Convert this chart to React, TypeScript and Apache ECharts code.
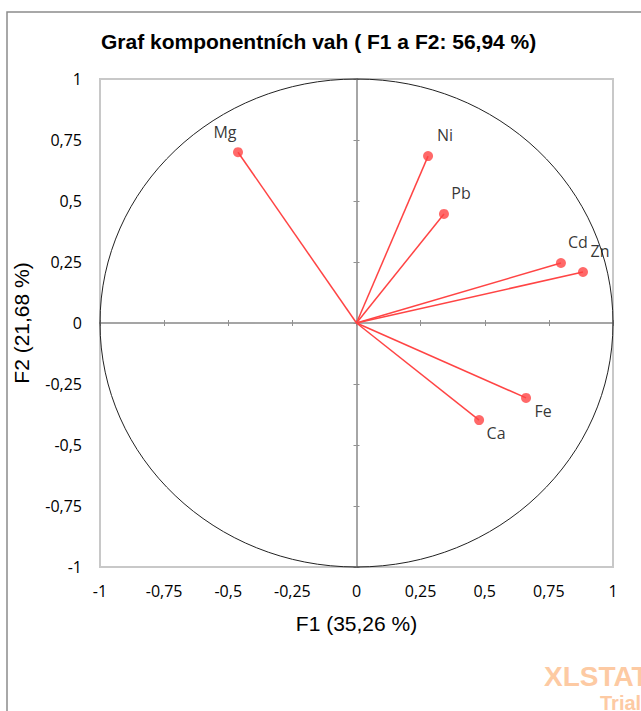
import React, { useEffect, useRef } from "react";
import * as echarts from "echarts";

const variables = ["Mg", "Ni", "Pb", "Cd", "Zn", "Fe", "Ca"];
const f1Values = [-0.462, 0.279, 0.341, 0.797, 0.883, 0.661, 0.478];
const f2Values = [0.7, 0.684, 0.447, 0.246, 0.209, -0.307, -0.398];
const axisTicks = [-1, -0.75, -0.5, -0.25, 0, 0.25, 0.5, 0.75, 1];

const titleText = "Graf komponentních vah ( F1 a F2: 56,94 %)";
const xName = "F1 (35,26 %)";
const yName = "F2 (21,68 %)";

const fmt = (v: number) => String(v).replace(".", ",");
const RED = "#ff4444";

export default function App() {
  const ref = useRef<HTMLDivElement>(null);
  useEffect(() => {
    if (!ref.current) return;
    const chart = echarts.init(ref.current, null, { renderer: "svg" });
    const min = axisTicks[0];
    const max = axisTicks[axisTicks.length - 1];
    const interval = axisTicks[1] - axisTicks[0];
    const labelAxisBase = {
      type: "value" as const,
      min,
      max,
      interval,
      axisLine: { show: false },
      axisTick: { show: false },
      splitLine: { show: false },
    };
    const crossAxis = (inside: boolean) => ({
      type: "value" as const,
      min,
      max,
      interval,
      axisLine: { show: true, onZero: true, lineStyle: { color: "#a0a0a0", width: 1.5 } },
      axisTick: { show: true, inside, length: 3, lineStyle: { color: "#909090", width: 1 } },
      axisLabel: { show: false },
      splitLine: { show: false },
    });
    const points = variables.map((name, i) => {
      const x = f1Values[i];
      const y = f2Values[i];
      const offset = x < 0 ? [-13, -20] : y < 0 ? [17, 13] : [17, -21];
      return { name, value: [x, y], label: { offset } };
    });
    chart.setOption({
      animation: false,
      backgroundColor: "#ffffff",
      title: {
        text: titleText,
        left: 96,
        top: 26,
        textStyle: { fontFamily: "Liberation Sans", fontWeight: "bold", fontSize: 21, color: "#000" },
      },
      grid: {
        left: 100,
        top: 79,
        width: 513,
        height: 488,
        show: true,
        borderColor: "#c8c8c8",
        borderWidth: 2,
        backgroundColor: "transparent",
      },
      xAxis: [
        {
          ...labelAxisBase,
          position: "bottom",
          axisLabel: { formatter: fmt, margin: 16, fontFamily: "Open Sans", fontSize: 16, color: "#000" },
          name: xName,
          nameLocation: "middle",
          nameGap: 46,
          nameTextStyle: { fontFamily: "Liberation Sans", fontSize: 21, color: "#000" },
        },
        crossAxis(true),
        crossAxis(false),
      ],
      yAxis: [
        {
          ...labelAxisBase,
          position: "left",
          axisLabel: { formatter: fmt, margin: 18, fontFamily: "Open Sans", fontSize: 16, color: "#000" },
          name: yName,
          nameLocation: "middle",
          nameGap: 68,
          nameTextStyle: { fontFamily: "Liberation Sans", fontSize: 21, color: "#000" },
        },
        crossAxis(true),
        crossAxis(false),
      ],
      series: [
        {
          type: "custom",
          xAxisIndex: 0,
          yAxisIndex: 0,
          silent: true,
          data: [[0, 0]],
          renderItem: (params: any, api: any) => {
            const c = api.coord([0, 0]);
            const s = api.size([1, 1]);
            return {
              type: "ellipse",
              shape: { cx: c[0], cy: c[1], rx: s[0], ry: s[1] },
              style: { fill: "none", stroke: "#222", lineWidth: 1 },
            };
          },
        },
        {
          type: "custom",
          xAxisIndex: 0,
          yAxisIndex: 0,
          silent: true,
          data: variables.map((_, i) => [f1Values[i], f2Values[i]]),
          renderItem: (params: any, api: any) => {
            const o = api.coord([0, 0]);
            const p = api.coord([api.value(0), api.value(1)]);
            return {
              type: "line",
              shape: { x1: o[0], y1: o[1], x2: p[0], y2: p[1] },
              style: { stroke: RED, lineWidth: 1.5 },
            };
          },
        },
        {
          type: "scatter",
          xAxisIndex: 0,
          yAxisIndex: 0,
          symbolSize: 10,
          itemStyle: { color: RED },
          data: points,
          label: {
            show: true,
            position: "inside",
            formatter: "{b}",
            fontFamily: "Open Sans",
            fontSize: 16,
            color: "#000",
          },
        },
      ],
      graphic: [
        {
          type: "rect",
          shape: { x: 7, y: 12, width: 700, height: 800 },
          style: { fill: "none", stroke: "#8c8c8c", lineWidth: 1.5 },
          silent: true,
        },
        {
          type: "text",
          x: 544,
          y: 662,
          style: {
            text: "XLSTAT",
            fontFamily: "Liberation Sans",
            fontWeight: "bold",
            fontSize: 28,
            fill: "#fdcaa3",
          },
          silent: true,
        },
        {
          type: "text",
          x: 600,
          y: 693,
          style: {
            text: "Trial",
            fontFamily: "Liberation Sans",
            fontWeight: "bold",
            fontSize: 20,
            fill: "#fdcaa3",
          },
          silent: true,
        },
      ],
    });
    return () => chart.dispose();
  }, []);
  return (
    <div
      ref={ref}
      style={{ position: "absolute", left: 0, top: 0, width: 641, height: 711 }}
    />
  );
}
